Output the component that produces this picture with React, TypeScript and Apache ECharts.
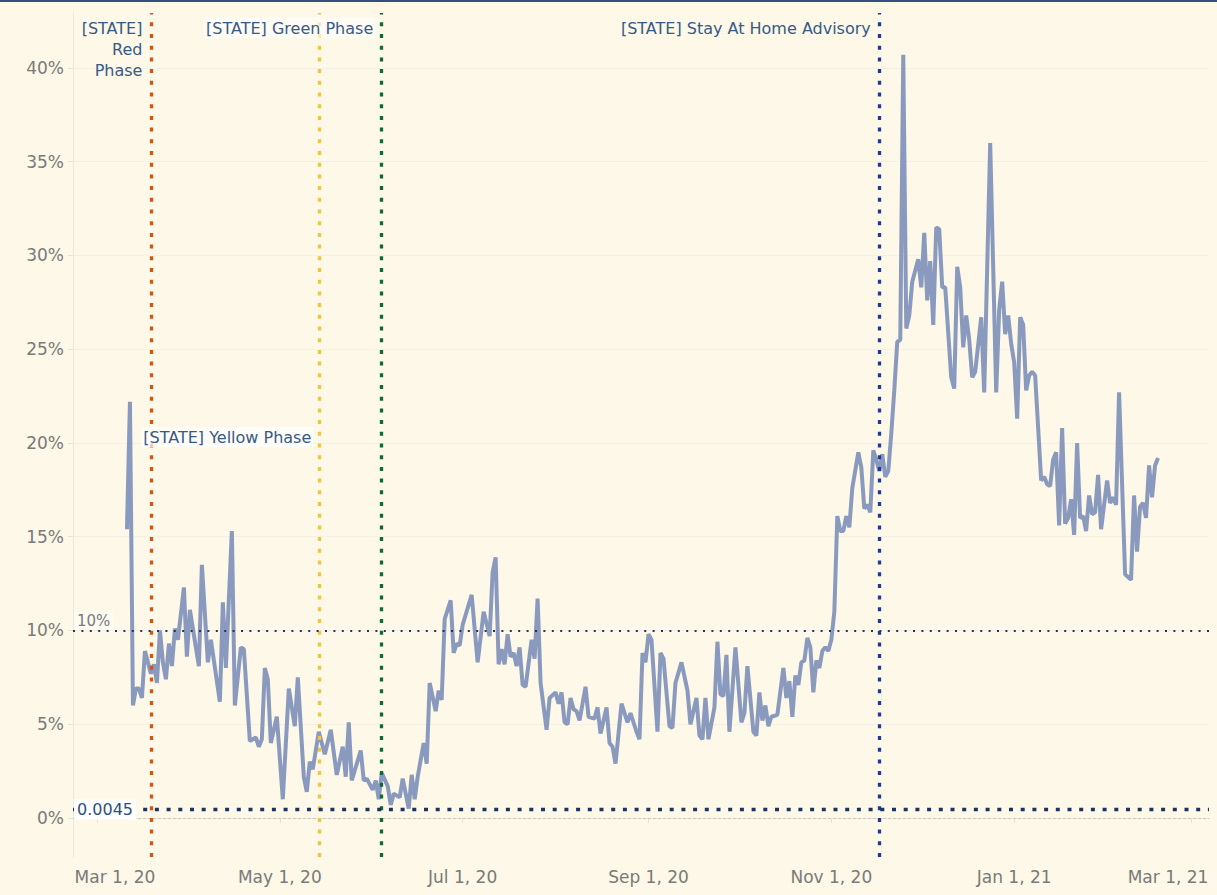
import React, { useEffect, useRef } from 'react';
import * as echarts from 'echarts';

// ---- data ----
const dates: string[] = [
  '2020-03-11','2020-03-12','2020-03-13','2020-03-14','2020-03-15','2020-03-16','2020-03-17','2020-03-18','2020-03-19','2020-03-20',
  '2020-03-21','2020-03-22','2020-03-23','2020-03-24','2020-03-25','2020-03-26','2020-03-27','2020-03-28','2020-03-30','2020-03-31',
  '2020-04-01','2020-04-03','2020-04-04','2020-04-05','2020-04-07','2020-04-08','2020-04-11','2020-04-12','2020-04-13','2020-04-15',
  '2020-04-16','2020-04-18','2020-04-19','2020-04-21','2020-04-23','2020-04-24','2020-04-25','2020-04-26','2020-04-27','2020-04-28',
  '2020-04-30','2020-05-02','2020-05-04','2020-05-06','2020-05-07','2020-05-09','2020-05-10','2020-05-11','2020-05-12','2020-05-14',
  '2020-05-16','2020-05-18','2020-05-20','2020-05-22','2020-05-23','2020-05-24','2020-05-25','2020-05-28','2020-05-29','2020-05-30',
  '2020-06-01','2020-06-02','2020-06-03','2020-06-04','2020-06-06','2020-06-07','2020-06-08','2020-06-10','2020-06-11','2020-06-13',
  '2020-06-14','2020-06-15','2020-06-16','2020-06-18','2020-06-19','2020-06-20','2020-06-22','2020-06-23','2020-06-24','2020-06-25',
  '2020-06-27','2020-06-28','2020-06-29','2020-06-30','2020-07-01','2020-07-04','2020-07-06','2020-07-08','2020-07-10','2020-07-11',
  '2020-07-12','2020-07-13','2020-07-14','2020-07-15','2020-07-16','2020-07-17','2020-07-18','2020-07-19','2020-07-20','2020-07-21',
  '2020-07-22','2020-07-24','2020-07-25','2020-07-26','2020-07-27','2020-07-29','2020-07-30','2020-08-01','2020-08-02','2020-08-03',
  '2020-08-04','2020-08-05','2020-08-06','2020-08-07','2020-08-08','2020-08-09','2020-08-11','2020-08-12','2020-08-14','2020-08-15',
  '2020-08-16','2020-08-18','2020-08-19','2020-08-20','2020-08-21','2020-08-23','2020-08-25','2020-08-26','2020-08-28','2020-08-29',
  '2020-08-30','2020-08-31','2020-09-01','2020-09-02','2020-09-04','2020-09-05','2020-09-06','2020-09-08','2020-09-09','2020-09-10',
  '2020-09-12','2020-09-14','2020-09-15','2020-09-17','2020-09-18','2020-09-19','2020-09-20','2020-09-21','2020-09-23','2020-09-24',
  '2020-09-25','2020-09-26','2020-09-27','2020-09-28','2020-09-30','2020-10-02','2020-10-03','2020-10-04','2020-10-06','2020-10-07',
  '2020-10-08','2020-10-09','2020-10-10','2020-10-11','2020-10-12','2020-10-14','2020-10-16','2020-10-17','2020-10-18','2020-10-19',
  '2020-10-20','2020-10-21','2020-10-22','2020-10-23','2020-10-24','2020-10-25','2020-10-26','2020-10-27','2020-10-28','2020-10-29',
  '2020-10-30','2020-10-31','2020-11-01','2020-11-02','2020-11-03','2020-11-04','2020-11-05','2020-11-06','2020-11-07','2020-11-08',
  '2020-11-10','2020-11-11','2020-11-12','2020-11-13','2020-11-14','2020-11-15','2020-11-16','2020-11-17','2020-11-18','2020-11-19',
  '2020-11-20','2020-11-21','2020-11-22','2020-11-23','2020-11-24','2020-11-25','2020-11-26','2020-11-27','2020-11-28','2020-11-30',
  '2020-12-01','2020-12-02','2020-12-03','2020-12-04','2020-12-05','2020-12-06','2020-12-07','2020-12-08','2020-12-09','2020-12-11',
  '2020-12-12','2020-12-13','2020-12-14','2020-12-15','2020-12-16','2020-12-17','2020-12-18','2020-12-19','2020-12-21','2020-12-22',
  '2020-12-24','2020-12-26','2020-12-27','2020-12-28','2020-12-29','2020-12-30','2020-12-31','2021-01-01','2021-01-02','2021-01-03',
  '2021-01-04','2021-01-05','2021-01-06','2021-01-07','2021-01-08','2021-01-10','2021-01-11','2021-01-12','2021-01-13','2021-01-14',
  '2021-01-15','2021-01-16','2021-01-17','2021-01-18','2021-01-19','2021-01-20','2021-01-21','2021-01-22','2021-01-23','2021-01-24',
  '2021-01-25','2021-01-26','2021-01-27','2021-01-28','2021-01-29','2021-01-30','2021-02-01','2021-02-02','2021-02-03','2021-02-04',
  '2021-02-05','2021-02-07','2021-02-09','2021-02-10','2021-02-11','2021-02-12','2021-02-13','2021-02-14','2021-02-15','2021-02-16',
  '2021-02-17','2021-02-18',
];

// positivity rate, percent
const rates: number[] = [
  15.4, 22.2, 6.0, 6.9, 6.9, 6.4, 8.9, 8.3, 7.7, 8.2,
  7.2, 10.0, 8.3, 7.4, 9.3, 8.1, 10.1, 9.5, 12.3, 8.6,
  11.1, 9.1, 8.1, 13.5, 8.3, 9.5, 6.2, 11.5, 8.0, 15.3,
  6.0, 9.1, 9.0, 4.1, 4.3, 3.8, 4.2, 8.0, 7.4, 4.0,
  5.4, 1.0, 6.9, 4.9, 7.5, 2.2, 1.4, 3.0, 2.6, 4.6,
  3.4, 4.7, 2.3, 3.8, 2.2, 5.1, 2.0, 3.6, 2.0, 2.1,
  1.5, 2.0, 1.0, 2.4, 1.7, 0.7, 1.3, 1.1, 2.1, 0.5,
  2.3, 1.0, 2.2, 4.0, 2.9, 7.2, 5.7, 6.8, 6.3, 10.6,
  11.6, 8.8, 9.3, 9.2, 10.3, 11.9, 8.3, 11.0, 9.7, 13.1,
  13.9, 8.2, 9.0, 8.2, 9.8, 8.6, 8.8, 8.1, 9.1, 7.1,
  7.0, 9.5, 8.5, 11.7, 7.2, 4.7, 6.4, 6.7, 6.1, 6.7,
  5.1, 5.0, 6.4, 5.8, 5.7, 5.2, 7.0, 5.4, 5.3, 5.9,
  4.5, 5.9, 4.0, 3.8, 2.9, 6.1, 5.1, 5.6, 4.6, 4.2,
  8.8, 8.3, 9.8, 9.5, 4.6, 8.8, 8.5, 4.9, 4.8, 7.2,
  8.3, 6.8, 5.0, 6.4, 4.4, 4.2, 6.4, 4.2, 5.9, 9.4,
  6.6, 6.5, 8.7, 4.6, 9.1, 5.1, 5.6, 8.1, 4.6, 4.4,
  6.7, 5.2, 6.0, 4.9, 5.4, 5.5, 8.0, 6.4, 7.3, 5.4,
  7.6, 7.1, 8.3, 8.4, 9.6, 9.1, 6.7, 8.4, 8.0, 8.9,
  9.1, 8.9, 9.5, 11.0, 16.1, 15.3, 15.3, 16.1, 15.5, 17.6,
  19.5, 18.7, 16.5, 16.7, 16.3, 19.6, 19.1, 18.5, 19.4, 18.2,
  18.5, 20.5, 22.8, 25.4, 25.5, 40.7, 26.1, 26.8, 28.6, 29.8,
  28.3, 31.2, 27.6, 29.7, 26.3, 31.5, 31.4, 28.3, 28.3, 23.5,
  22.9, 29.4, 28.3, 25.1, 26.8, 25.5, 23.5, 23.8, 26.7, 22.7,
  36.0, 22.7, 27.1, 28.6, 25.8, 26.8, 25.3, 24.3, 21.3, 26.7,
  26.3, 22.8, 23.6, 23.8, 23.6, 18.0, 18.2, 17.8, 17.7, 19.1,
  19.5, 15.6, 20.8, 15.7, 16.0, 17.0, 15.1, 20.0, 16.0, 16.1,
  15.3, 17.2, 16.2, 16.3, 18.3, 15.4, 18.0, 16.8, 17.1, 16.7,
  22.7, 13.0, 12.7, 17.2, 14.2, 16.6, 16.8, 16.0, 18.8, 17.1,
  18.8, 19.2,
];

const xTickDates = ['2020-03-01', '2020-05-01', '2020-07-01', '2020-09-01', '2020-11-01', '2021-01-01', '2021-03-01'];
const xTickLabels = ['Mar 1, 20', 'May 1, 20', 'Jul 1, 20', 'Sep 1, 20', 'Nov 1, 20', 'Jan 1, 21', 'Mar 1, 21'];
const yTickValues = [0, 5, 10, 15, 20, 25, 30, 35, 40];

const phaseDates = ['2020-03-19', '2020-05-14', '2020-06-04', '2020-11-17'];
const phaseNames = ['[STATE]\nRed\nPhase', '[STATE] Yellow Phase', '[STATE] Green Phase', '[STATE] Stay At Home Advisory'];
const phaseColors = ['#d2560f', '#f2c53d', '#0b6b37', '#1e3a99'];
const yellowLabelLevel = 20.3;

const refLevels = [10, 0.45];
const refLabels = ['10%', '0.0045'];

const X_MIN = '2020-02-22';
const X_MAX = '2021-03-07';
const Y_MIN = -2.08;
const Y_MAX = 42.93;

function ts(s: string): number {
  const [y, m, d] = s.split('-').map(Number);
  return new Date(y, m - 1, d).getTime();
}

const FONT = 'DejaVu Sans';
const BG = '#fdf8e7';
const LABEL_BLUE = '#375a87';
const AXIS_GRAY = '#7a7a7a';

export default function App() {
  const ref = useRef<HTMLDivElement>(null);

  useEffect(() => {
    document.body.style.margin = '0';
    const chart = echarts.init(ref.current!, null, { renderer: 'svg' });
    const tickTs = xTickDates.map(ts);
    const dotted = [4, 7.7];

    const phaseLine = (i: number) => ({
      xAxis: ts(phaseDates[i]),
      lineStyle: { color: phaseColors[i], width: 3.3, type: dotted },
      label: { show: false },
    });

    const topLabel = (i: number, bg: string) => ({
      coord: [ts(phaseDates[i]), Y_MAX],
      symbol: 'rect',
      symbolSize: 1,
      itemStyle: { color: 'transparent' },
      label: {
        show: true,
        formatter: phaseNames[i],
        position: [-6, 5],
        align: 'right',
        verticalAlign: 'top',
        color: LABEL_BLUE,
        fontFamily: FONT,
        fontSize: 16,
        lineHeight: 21,
        backgroundColor: bg,
        padding: [0, 2, 0, 2],
      },
    });

    chart.setOption({
      animation: false,
      backgroundColor: BG,
      grid: { left: 73, right: 8, top: 13, bottom: 38, outerBoundsMode: 'none' },
      graphic: [
        { type: 'rect', shape: { x: 0, y: 0, width: 1217, height: 2 }, style: { fill: '#34507e' } },
      ],
      xAxis: {
        type: 'value',
        min: ts(X_MIN),
        max: ts(X_MAX),
        axisLine: { show: true, lineStyle: { color: '#ebe7dc', width: 1 } },
        axisTick: { show: true, customValues: tickTs, length: 5, lineStyle: { color: '#e6e2d7' } },
        splitLine: { show: false },
        axisLabel: {
          customValues: tickTs,
          margin: 11,
          color: AXIS_GRAY,
          fontFamily: FONT,
          fontSize: 17,
          formatter: (v: number) => {
            const i = tickTs.findIndex((t) => Math.abs(t - v) < 3600000);
            if (i < 0) return '';
            const txt = xTickLabels[i];
            if (i === 0) return `{first|${txt}}`;
            if (i === tickTs.length - 1) return `{last|${txt}}`;
            return txt;
          },
          rich: {
            first: { padding: [0, 0, 0, 36], color: AXIS_GRAY, fontFamily: FONT, fontSize: 17 },
            last: { padding: [0, 46, 0, 0], color: AXIS_GRAY, fontFamily: FONT, fontSize: 17 },
          },
        },
      },
      yAxis: {
        type: 'value',
        min: Y_MIN,
        max: Y_MAX,
        minInterval: 5,
        maxInterval: 5,
        axisLine: { show: true, lineStyle: { color: '#ebe7dc', width: 1 } },
        axisTick: { show: true, customValues: yTickValues, length: 5, lineStyle: { color: '#e6e2d7' } },
        splitLine: { show: true, lineStyle: { color: '#f4f0e6', width: 1 } },
        axisLabel: {
          customValues: yTickValues,
          margin: 9,
          color: AXIS_GRAY,
          fontFamily: FONT,
          fontSize: 17,
          formatter: (v: number) => `${v}%`,
        },
      },
      series: [
        {
          type: 'line',
          data: dates.map((d, i) => [ts(d), rates[i]]),
          showSymbol: false,
          symbol: 'none',
          z: 2,
          lineStyle: { color: '#8a9abf', width: 4 },
        },
        {
          type: 'line',
          data: [],
          z: 5,
          markLine: {
            silent: true,
            symbol: ['none', 'none'],
            animation: false,
            data: [
              {
                yAxis: 0,
                lineStyle: { color: '#cdc8bd', width: 1, type: [3, 2] },
                label: { show: false },
              },
              phaseLine(0),
              phaseLine(1),
              phaseLine(2),
              phaseLine(3),
              {
                yAxis: refLevels[0],
                lineStyle: { color: '#1f3461', width: 2, type: [2, 6.4] },
                label: {
                  show: true,
                  position: 'insideStartTop',
                  formatter: refLabels[0],
                  color: AXIS_GRAY,
                  fontFamily: FONT,
                  fontSize: 15,
                  backgroundColor: 'rgba(255,255,255,0.5)',
                  padding: [2, 3, 1, 3],
                  distance: [1, 1],
                },
              },
              {
                yAxis: refLevels[1],
                lineStyle: { color: '#1d3461', width: 3.3, type: dotted },
                label: {
                  show: true,
                  position: 'insideStart',
                  formatter: refLabels[1],
                  color: '#2d4e7e',
                  fontFamily: FONT,
                  fontSize: 16,
                  backgroundColor: '#ffffff',
                  padding: [2, 3, 2, 3],
                  distance: [1, 0],
                },
              },
            ],
          },
          markPoint: {
            silent: true,
            animation: false,
            data: [
              topLabel(0, 'transparent'),
              topLabel(2, 'rgba(255,255,255,0.6)'),
              topLabel(3, 'transparent'),
              {
                coord: [ts(phaseDates[1]), yellowLabelLevel],
                symbol: 'rect',
                symbolSize: 1,
                itemStyle: { color: 'transparent' },
                label: {
                  show: true,
                  formatter: phaseNames[1],
                  position: 'left',
                  distance: 5,
                  color: LABEL_BLUE,
                  fontFamily: FONT,
                  fontSize: 16,
                  backgroundColor: 'rgba(255,255,255,0.7)',
                  padding: [2, 2, 2, 2],
                },
              },
            ],
          },
        },
      ],
    });
    return () => chart.dispose();
  }, []);

  return <div ref={ref} style={{ width: 1217, height: 895 }} />;
}
